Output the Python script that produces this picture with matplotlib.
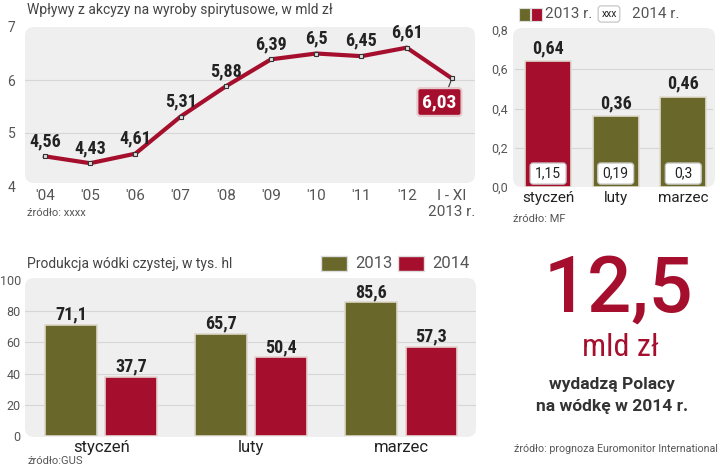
import matplotlib.pyplot as plt
from matplotlib import font_manager
from matplotlib.patches import FancyBboxPatch, Rectangle

W, H = 720, 467

# data
years = ["'04", "'05", "'06", "'07", "'08", "'09", "'10", "'11", "'12", "I - XI\n2013 r."]
excise = [4.56, 4.43, 4.61, 5.31, 5.88, 6.39, 6.5, 6.45, 6.61, 6.03]

months = ['styczeń', 'luty', 'marzec']
monthly_2013 = [0.64, 0.36, 0.46]
monthly_2014 = [1.15, 0.19, 0.3]

prod_2013 = [71.1, 65.7, 85.6]
prod_2014 = [37.7, 50.4, 57.3]

RED = '#a50f2d'
OLIVE = '#69682a'
BG = '#efefef'
GRID = '#d6d6d6'
DARK = '#222222'
TICK = '#555555'

names = {f.name for f in font_manager.fontManager.ttflist}
COND = next((n for n in ['Roboto Condensed', 'Liberation Sans Narrow',
                         'DejaVu Sans Condensed', 'Open Sans Condensed']
             if n in names), 'Roboto')

plt.rcParams['font.family'] = ['Roboto', 'DejaVu Sans']


def fmt(v):
    return f'{v:g}'.replace('.', ',')


def box(x0, y0, x1, y1):
    return [x0 / W, 1 - y1 / H, (x1 - x0) / W, (y1 - y0) / H]


def fx(x):
    return x / W


def fy(y):
    return 1 - y / H


fig = plt.figure(figsize=(7.2, 4.67), dpi=100)


def bg(ax, x0, y0, x1, y1, r=9):
    p = FancyBboxPatch((x0 / W, 1 - y1 / H), (x1 - x0) / W, (y1 - y0) / H,
                       boxstyle=f'round,pad=0,rounding_size={r / W}',
                       mutation_aspect=W / H, transform=fig.transFigure,
                       fc=BG, ec='none', zorder=0, clip_on=False)
    ax.add_patch(p)


def clean(ax):
    ax.set_facecolor('none')
    for s in ax.spines.values():
        s.set_visible(False)
    ax.tick_params(length=0)


# --- excise line chart ---
ax1 = fig.add_axes(box(25, 27, 475, 186))
clean(ax1)
bg(ax1, 25, 27, 475, 183)
x = list(range(len(excise)))
for g in [5, 6]:
    ax1.axhline(g, color=GRID, lw=0.8, zorder=1)
ax1.plot(x, excise, color=RED, lw=3, marker='s', ms=3.5, mfc='#dddddd',
         mec='#333333', mew=0.8, zorder=3, solid_joinstyle='round')
for i, v in enumerate(excise[:-1]):
    ax1.annotate(fmt(v), (i, v), xytext=(0, 11), textcoords='offset points',
                 ha='center', va='center', family=COND, weight='bold',
                 fontsize=13, color=DARK)
ax1.annotate(fmt(excise[-1]), (x[-1], excise[-1]), xytext=(-9, -17),
             textcoords='offset points', ha='center', va='center',
             family=COND, weight='bold', fontsize=14, color='white',
             bbox=dict(boxstyle='round,pad=0.25,rounding_size=0.15',
                       fc=RED, ec='#e6c9cc', lw=1.5),
             arrowprops=dict(arrowstyle='-', color='#333333', lw=0.8,
                             shrinkA=0, shrinkB=2, relpos=(0.7, 1)),
             zorder=4)
ax1.set_xlim(-0.44, 9.51)
ax1.set_ylim(4, 7)
ax1.set_xticks(x, years, fontsize=11, color=TICK)
ax1.set_yticks([4, 5, 6, 7], ['4', '5', '6', '7'], fontsize=10, color=TICK)
ax1.tick_params(axis='y', pad=7)
ax1.tick_params(axis='x', pad=2)
fig.text(fx(27), fy(10), 'Wpływy z akcyzy na wyroby spirytusowe, w mld zł',
         fontsize=10, color='#444444', va='center', ha='left')
fig.text(fx(27), fy(213), 'źródło: xxxx', fontsize=8, color=TICK,
         va='center', ha='left')

# --- monthly excise bars ---
ax2 = fig.add_axes(box(515, 30, 713, 187))
clean(ax2)
bg(ax2, 513, 28, 715, 187)
for g in [0.2, 0.4, 0.6]:
    ax2.axhline(g, color=GRID, lw=0.8, zorder=1)
mx = list(range(len(months)))
ax2.bar(mx, monthly_2013, width=0.68, color=[RED, OLIVE, OLIVE],
        edgecolor='#e2dccf', lw=1.2, zorder=2)
for i, (v, v2) in enumerate(zip(monthly_2013, monthly_2014)):
    ax2.annotate(fmt(v), (i, v), xytext=(0, 9.5), textcoords='offset points',
                 ha='center', va='center', family=COND, weight='bold',
                 fontsize=13, color=DARK)
    ax2.add_patch(FancyBboxPatch((i - 0.265, 0.015), 0.53, 0.107,
                                 boxstyle='round,pad=0,rounding_size=0.045',
                                 mutation_aspect=0.34, fc='white',
                                 ec='#cccccc', lw=1, zorder=3))
    ax2.text(i, 0.068, fmt(v2), ha='center', va='center', fontsize=10,
             color=DARK, zorder=4)
ax2.set_xlim(-0.49, 2.44)
ax2.set_ylim(0, 0.8)
ax2.set_xticks(mx, months, fontsize=11, color=DARK)
ax2.set_yticks([0, 0.2, 0.4, 0.6, 0.8],
               ['0,0', '0,2', '0,4', '0,6', '0,8'], fontsize=9, color=TICK)
ax2.tick_params(axis='y', pad=5)
ax2.tick_params(axis='x', pad=3)
fig.text(fx(513), fy(219), 'źródło: MF', fontsize=8, color=TICK,
         va='center', ha='left')

# legend top right
fig.patches.append(Rectangle((fx(519), fy(21)), 11 / W, 13 / H, fc=OLIVE,
                             ec='#dddddd', lw=0.8, transform=fig.transFigure))
fig.patches.append(Rectangle((fx(531), fy(21)), 11 / W, 13 / H, fc=RED,
                             ec='#dddddd', lw=0.8, transform=fig.transFigure))
fig.text(fx(545), fy(14), '2013 r.', fontsize=11, color=TICK,
         va='center', ha='left')
fig.text(fx(609), fy(14), 'xxx', fontsize=7.5, color=DARK, va='center',
         ha='center', bbox=dict(boxstyle='round,pad=0.3', fc='white',
                                ec='#cccccc', lw=1))
fig.text(fx(632), fy(14), '2014 r.', fontsize=11, color=TICK,
         va='center', ha='left')

# --- vodka production bars ---
ax3 = fig.add_axes(box(25, 280, 476, 436))
clean(ax3)
bg(ax3, 25, 278, 476, 437)
for g in [20, 40, 60, 80]:
    ax3.axhline(g, color=GRID, lw=0.8, zorder=1)
px = list(range(len(months)))
ax3.bar([i - 0.2 for i in px], prod_2013, width=0.345, color=OLIVE,
        edgecolor='#ddd6c9', lw=1.2, zorder=2)
ax3.bar([i + 0.2 for i in px], prod_2014, width=0.345, color=RED,
        edgecolor='#e5d3d0', lw=1.2, zorder=2)
for i in px:
    for dx, v in [(-0.2, prod_2013[i]), (0.2, prod_2014[i])]:
        ax3.annotate(fmt(v), (i + dx, v), xytext=(0, 7.5),
                     textcoords='offset points', ha='center', va='center',
                     family=COND, weight='bold', fontsize=13, color=DARK)
ax3.set_xlim(-0.507, 2.497)
ax3.set_ylim(0, 100)
ax3.set_xticks(px, months, fontsize=12, color=DARK)
yt = [0, 20, 40, 60, 80, 100]
ax3.set_yticks(yt, [str(t) for t in yt], fontsize=9, color=TICK)
ax3.tick_params(axis='y', pad=3)
ax3.tick_params(axis='x', pad=3)
fig.text(fx(27), fy(264), 'Produkcja wódki czystej, w tys. hl', fontsize=10,
         color='#444444', va='center', ha='left')
fig.text(fx(27), fy(461), 'źródło:GUS', fontsize=8, color=TICK,
         va='center', ha='left')
fig.patches.append(Rectangle((fx(321), fy(271)), 26 / W, 15 / H, fc=OLIVE,
                             ec='#dddddd', lw=1, transform=fig.transFigure))
fig.text(fx(355), fy(264), '2013', fontsize=12, color=TICK,
         va='center', ha='left')
fig.patches.append(Rectangle((fx(398), fy(271)), 26 / W, 15 / H, fc=RED,
                             ec='#dddddd', lw=1, transform=fig.transFigure))
fig.text(fx(432), fy(264), '2014', fontsize=12, color=TICK,
         va='center', ha='left')

# --- big number ---
fig.text(fx(618), fy(290), '12,5', fontsize=56, color=RED, weight='medium',
         ha='center', va='center')
fig.text(fx(620), fy(347), 'mld zł', fontsize=23, color=RED, family=COND,
         ha='center', va='center')
fig.text(fx(612), fy(385), 'wydadzą Polacy', fontsize=12.5, color='#333333',
         weight='bold', ha='center', va='center')
fig.text(fx(612), fy(407), 'na wódkę w 2014 r.', fontsize=12.5,
         color='#333333', weight='bold', ha='center', va='center')
fig.text(fx(718), fy(449), 'źródło: prognoza Euromonitor International',
         fontsize=7.7, color=TICK, ha='right', va='center')

fig.savefig('out.png', dpi=100)
